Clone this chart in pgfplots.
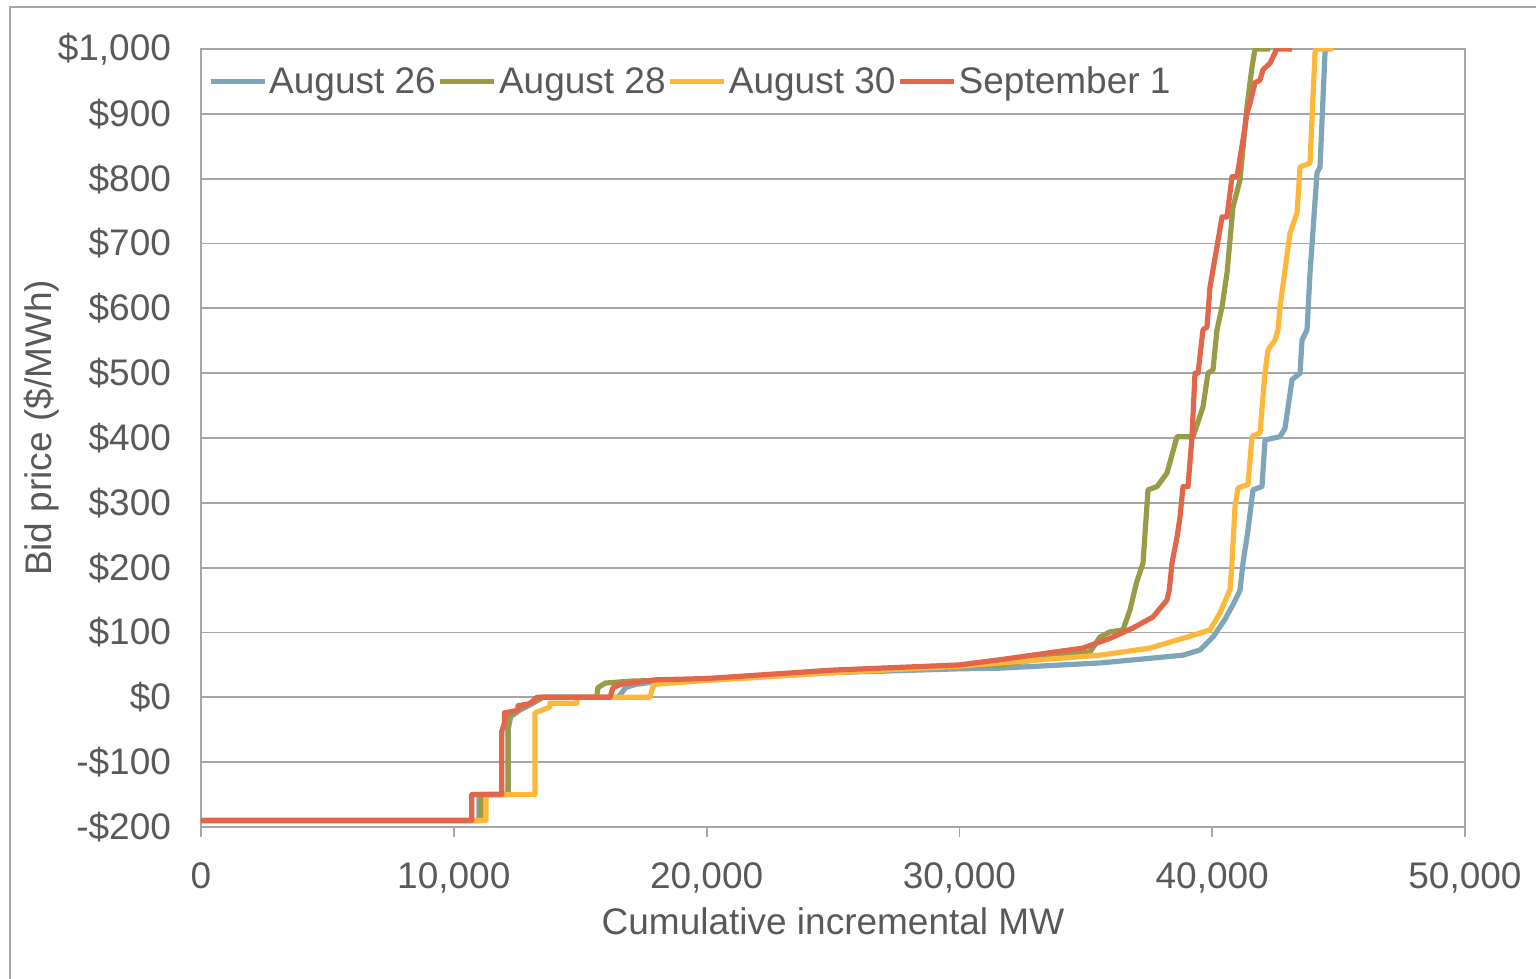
\documentclass[border=0pt]{standalone}
\usepackage{pgfplots}
\pgfplotsset{compat=1.18}
\usepackage{fontspec}
\setmainfont{Liberation Sans}
\definecolor{txt}{HTML}{595959}
\definecolor{gridc}{HTML}{A6A6A6}
\definecolor{cblue}{HTML}{7FA5BB}
\definecolor{cgreen}{HTML}{9A9B47}
\definecolor{corange}{HTML}{FDB73A}
\definecolor{cred}{HTML}{E2664A}
\begin{document}
\begin{tikzpicture}[font=\fontsize{18.5}{22}\selectfont]
\useasboundingbox (-100.5pt,-76pt) rectangle (667.5pt,413.5pt);
\draw[gridc, line width=0.8pt] (-95.5pt,-120pt) rectangle (700pt,410pt);
\begin{axis}[
  at={(0,0)}, anchor=south west,
  scale only axis, width=632pt, height=389pt,
  xmin=0, xmax=50000, ymin=-200, ymax=1000,
  xtick={0,10000,20000,30000,40000,50000},
  xticklabels={0,{10,000},{20,000},{30,000},{40,000},{50,000}},
  ytick={-200,-100,0,100,200,300,400,500,600,700,800,900,1000},
  yticklabels={-\$200,-\$100,\$0,\$100,\$200,\$300,\$400,\$500,\$600,\$700,\$800,\$900,{\$1,000}},
  scaled ticks=false,
  ymajorgrids, grid style={gridc, line width=0.9pt},
  axis line style={gridc, line width=0.9pt},
  tick style={gridc, line width=0.9pt},
  xtick align=outside, major tick length=5pt,
  ytick style={draw=none},
  xtick pos=bottom, ytick pos=left,
  tick label style={text=txt},
  yticklabel style={xshift=-11.5pt},
  xticklabel style={yshift=-9.5pt},
  xlabel={Cumulative incremental MW},
  ylabel={Bid price (\$/MWh)},
  label style={text=txt},
  xlabel style={at={(axis description cs:0.5,-0.121)}, anchor=center},
  ylabel style={at={(axis description cs:-0.126,0.513)}, anchor=center},
  legend columns=4,
  legend style={draw=none, fill=none, at={(axis description cs:0.0005,0.958)}, anchor=west,
    text=txt, nodes={inner sep=1pt}, /tikz/every even column/.append style={column sep=0pt}},
  legend image code/.code={\draw[#1] (0pt,0pt) -- (27pt,0pt);},
  every axis plot/.append style={line width=2.6pt, line join=round},
]
\addplot[cblue] coordinates {(0,-190) (11000,-190) (11000,-150) (12150,-150) (12150,-50) (12250,-30) (12600,-20) (13100,-10) (13500,0) (16500,0) (16800,15) (17200,20) (18000,24) (20000,27) (25000,38) (30000,44) (31606,45) (35562,53) (38845,65) (39517,73) (40032,93) (40500,120) (40850,145) (41099,165) (41218,207) (41416,258) (41613,320) (41970,325) (42089,397) (42682,402) (42880,415) (43157,490) (43474,500) (43553,551) (43751,567) (43869,654) (44146,809) (44265,818) (44462,994) (44500,1000)};
\addlegendentry{August 26}
\addplot[cgreen] coordinates {(0,-190) (11076,-190) (11076,-150) (12144,-150) (12144,-30) (12700,-15) (13400,-3) (13500,0) (15650,0) (15700,15) (16000,22) (17000,25) (20000,28) (25000,40) (30000,48) (31606,50) (35167,70) (35562,93) (35957,101) (36472,104) (36749,135) (37000,176) (37263,207) (37461,320) (37817,325) (38212,346) (38608,402) (39241,402) (39636,448) (39834,500) (40032,505) (40190,567) (40388,602) (40585,654) (40822,756) (41099,798) (41376,911) (41574,972) (41693,1000) (42287,1000)};
\addlegendentry{August 28}
\addplot[corange] coordinates {(0,-190) (11270,-190) (11270,-150) (13212,-150) (13212,-24) (13800,-15) (13800,-9) (14870,-9) (14870,0) (17760,0) (17900,20) (20000,26) (25000,38) (30000,48) (31606,53) (35562,65) (37540,76) (38845,91) (39913,104) (40309,130) (40704,166) (40783,207) (40902,294) (41020,323) (41416,328) (41574,402) (41890,408) (42089,500) (42207,536) (42485,551) (42603,567) (42682,602) (43078,716) (43355,747) (43474,818) (43869,824) (44067,994) (44100,1000) (44779,1000)};
\addlegendentry{August 30}
\addplot[cred] coordinates {(0,-190) (10708,-190) (10708,-150) (11894,-150) (11894,-53) (12000,-40) (12000,-24) (12540,-20) (12540,-13) (13000,-10) (13290,0) (16180,0) (16300,15) (16600,20) (18000,27) (20000,29) (25000,42) (30000,50) (31606,58) (34889,76) (35957,91) (36867,107) (37658,124) (38212,150) (38300,165) (38410,207) (38608,247) (38727,278) (38845,325) (39043,325) (39201,402) (39320,500) (39438,500) (39636,567) (39794,571) (39913,633) (40190,695) (40388,741) (40585,741) (40783,803) (40981,803) (41218,860) (41376,901) (41495,916) (41693,948) (41890,952) (42009,968) (42287,978) (42485,994) (42520,1000) (43157,1000)};
\addlegendentry{September 1}
\end{axis}
\end{tikzpicture}
\end{document}
